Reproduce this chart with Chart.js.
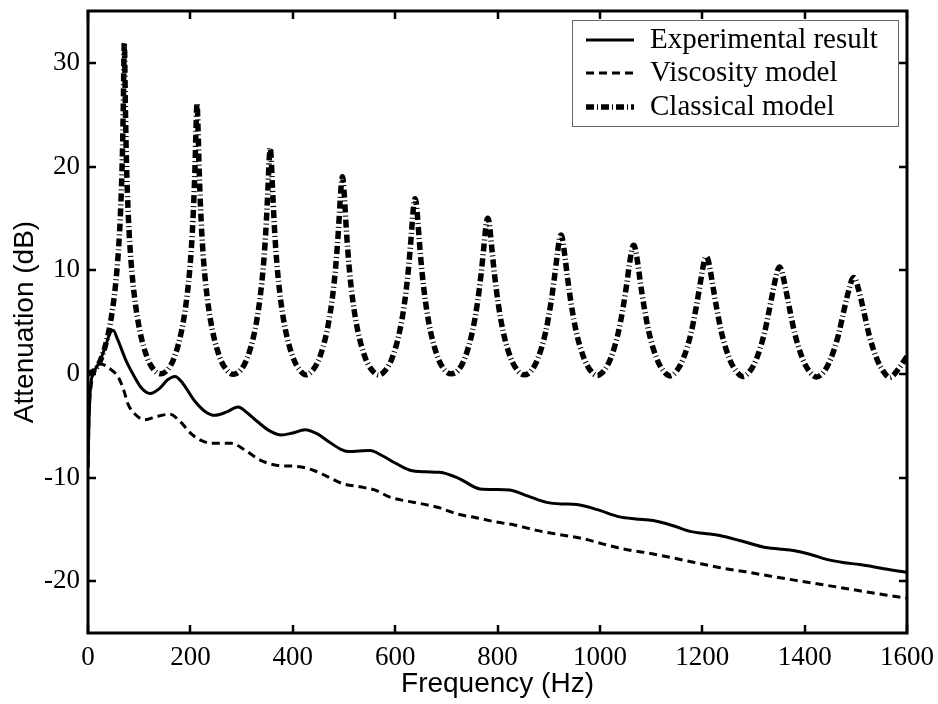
<!DOCTYPE html>
<html>
<head>
<meta charset="utf-8">
<script src="https://cdn.jsdelivr.net/npm/chart.js@4.4.0/dist/chart.umd.min.js"></script>
<style>
  html, body { margin: 0; padding: 0; background: #fff; }
  #wrap { width: 938px; height: 704px; position: relative; }
</style>
</head>
<body>
<div id="wrap"><canvas id="myChart"></canvas></div>
<script>
// tick labels
var xTicks = [0, 200, 400, 600, 800, 1000, 1200, 1400, 1600]
var yTicks = [-20, -10, 0, 10, 20, 30]

var seriesNames = ['Experimental result', 'Viscosity model', 'Classical model']

var expHz = [0, 2, 5, 12, 23, 35, 42, 49, 58, 75, 91, 105, 121, 140, 155, 170, 185, 208, 228, 248,
  270, 293, 312, 332, 355, 378, 400, 424, 448, 472, 495, 511, 530, 551, 575, 600, 629, 660, 687, 725,
  766, 795, 824, 860, 896, 925, 955, 995, 1039, 1070, 1104, 1140, 1176, 1205, 1234, 1275, 1319, 1350,
  1378, 1410, 1443, 1475, 1508, 1550, 1586, 1600]
var expDb = [-9.0, -4.5, -1.2, 0.2, 1.2, 2.8, 3.8, 4.2, 3.3, 1.2, -0.3, -1.4, -1.9, -1.4, -0.6, -0.25, -0.9, -2.6, -3.6, -4.0,
  -3.7, -3.2, -3.8, -4.65, -5.5, -5.9, -5.7, -5.4, -5.8, -6.6, -7.3, -7.5, -7.45, -7.4, -7.9, -8.6, -9.3, -9.45, -9.5, -10.1,
  -11.1, -11.15, -11.2, -11.8, -12.4, -12.55, -12.6, -13.1, -13.8, -14.0, -14.15, -14.6, -15.2, -15.4, -15.6, -16.1, -16.7, -16.9,
  -17.05, -17.4, -17.9, -18.2, -18.4, -18.75, -19.05, -19.15]

// Viscosity model
var viscHz = [0, 2, 6, 12, 23, 33, 45, 59, 70, 78, 92, 111, 135, 160, 180, 202, 220, 241, 260, 280,
  305, 332, 350, 371, 410, 440, 463, 498, 531, 560, 590, 620, 648, 685, 720, 760, 798, 835, 876, 920,
  967, 1005, 1046, 1090, 1137, 1185, 1235, 1285, 1332, 1380, 1430, 1480, 1528, 1560, 1593, 1600]
var viscDb = [-9.0, -4.0, -1.2, 0.2, 0.95, 0.82, 0.4, -0.3, -1.6, -2.9, -3.9, -4.43, -4.1, -3.9, -4.6, -5.8, -6.4, -6.7, -6.7, -6.7,
  -7.3, -8.2, -8.6, -8.84, -8.94, -9.3, -9.8, -10.6, -10.9, -11.2, -11.9, -12.25, -12.5, -12.9, -13.5, -13.9, -14.3, -14.6, -15.1, -15.5,
  -15.9, -16.4, -16.9, -17.25, -17.7, -18.2, -18.7, -19.1, -19.5, -19.9, -20.3, -20.7, -21.1, -21.35, -21.6, -21.65]

// Classical model, one row per resonance
var classHz = [
  0, 13, 26, 41, 51, 58, 63, 67, 69, 71, 73, 75, 79, 84, 91, 101, 116, 129, 142,
  155, 168, 183, 193, 200, 205, 209, 211, 213, 215, 217, 221, 226, 233, 243, 258, 271, 284,
  298, 311, 326, 336, 343, 348, 352, 354, 356, 358, 360, 364, 369, 376, 386, 401, 414, 426,
  439, 452, 467, 477, 484, 489, 493, 495, 497, 499, 501, 505, 510, 517, 527, 542, 555, 568,
  581, 594, 609, 619, 626, 631, 635, 637, 639, 641, 643, 647, 652, 659, 669, 684, 697, 710,
  723, 736, 751, 761, 768, 773, 777, 779, 781, 783, 785, 789, 794, 801, 811, 826, 839, 852,
  866, 879, 894, 904, 911, 916, 920, 922, 924, 926, 928, 932, 937, 944, 954, 969, 982, 995,
  1008, 1021, 1036, 1046, 1053, 1058, 1062, 1064, 1066, 1068, 1070, 1074, 1079, 1086, 1096, 1111, 1124, 1137,
  1150, 1163, 1178, 1188, 1195, 1200, 1204, 1206, 1208, 1210, 1212, 1216, 1221, 1228, 1238, 1253, 1266, 1279,
  1293, 1306, 1321, 1331, 1338, 1343, 1347, 1349, 1351, 1353, 1355, 1359, 1364, 1371, 1381, 1396, 1409, 1423,
  1438, 1451, 1466, 1476, 1483, 1488, 1492, 1494, 1496, 1498, 1500, 1504, 1509, 1516, 1526, 1541, 1554, 1566,
  1585, 1600]
var classDb = [
  0, 0.37, 1.51, 4.21, 7.36, 10.9, 15.0, 20.7, 25.9, 31.9, 25.9, 20.7, 15.0, 10.9, 7.36, 4.21, 1.51, 0.37, 0.0,
  0.37, 1.51, 4.21, 7.33, 10.8, 14.8, 19.9, 23.6, 26.1, 23.6, 19.9, 14.8, 10.8, 7.33, 4.21, 1.51, 0.37, -0.05,
  0.35, 1.51, 4.18, 7.27, 10.65, 14.3, 18.45, 20.7, 21.8, 20.7, 18.45, 14.3, 10.65, 7.27, 4.18, 1.51, 0.35, -0.1,
  0.35, 1.51, 4.16, 7.18, 10.4, 13.7, 17.0, 18.4, 19.0, 18.4, 17.0, 13.7, 10.4, 7.18, 4.16, 1.51, 0.35, -0.1,
  0.35, 1.50, 4.13, 7.06, 10.1, 13.0, 15.6, 16.55, 16.9, 16.55, 15.6, 13.0, 10.1, 7.06, 4.13, 1.50, 0.35, 0.0,
  0.33, 1.50, 4.08, 6.91, 9.65, 12.07, 14.07, 14.77, 15.0, 14.77, 14.07, 12.07, 9.65, 6.91, 4.08, 1.50, 0.33, -0.1,
  0.3, 1.49, 4.02, 6.73, 9.2, 11.2, 12.7, 13.22, 13.4, 13.22, 12.7, 11.2, 9.2, 6.73, 4.02, 1.49, 0.3, -0.15,
  0.3, 1.48, 3.97, 6.58, 8.85, 10.66, 11.86, 12.26, 12.4, 12.26, 11.86, 10.66, 8.85, 6.58, 3.97, 1.48, 0.3, -0.2,
  0.28, 1.47, 3.91, 6.38, 8.4, 9.89, 10.89, 11.19, 11.3, 11.19, 10.89, 9.89, 8.4, 6.38, 3.91, 1.47, 0.28, -0.25,
  0.25, 1.46, 3.84, 6.18, 7.95, 9.15, 9.98, 10.2, 10.3, 10.2, 9.98, 9.15, 7.95, 6.18, 3.84, 1.46, 0.25, -0.3,
  0.22, 1.45, 3.75, 5.94, 7.45, 8.37, 9.05, 9.23, 9.3, 9.23, 9.05, 8.37, 7.45, 5.94, 3.75, 1.45, 0.22, -0.35,
  0.6, 1.7]

function pts(xs, ys){
    var out = []
    for(var i=0;i<=xs.length-1;i++){
        out.push({x: xs[i], y: ys[i]})
    }
    return out
}

var serif = "'Liberation Serif', 'Times New Roman', serif"
var sans = "'Liberation Sans', Arial, sans-serif"

//ramka, ticki do srodka i legenda
const frame = {
    id: 'frame',
    afterDraw(chart){
        const ctx = chart.ctx
        const a = chart.chartArea
        const x = chart.scales.x
        const y = chart.scales.y
        ctx.save()
        ctx.strokeStyle = '#000'
        ctx.lineWidth = 2.5
        ctx.beginPath()
        x.ticks.forEach(t => {
            const px = Math.round(x.getPixelForValue(t.value))
            ctx.moveTo(px, a.bottom); ctx.lineTo(px, a.bottom - 8)
            ctx.moveTo(px, a.top); ctx.lineTo(px, a.top + 8)
        })
        y.ticks.forEach(t => {
            const py = Math.round(y.getPixelForValue(t.value))
            ctx.moveTo(a.left, py); ctx.lineTo(a.left + 8, py)
            ctx.moveTo(a.right, py); ctx.lineTo(a.right - 8, py)
        })
        ctx.stroke()
        ctx.lineWidth = 3
        ctx.strokeRect(a.left, a.top, a.right - a.left, a.bottom - a.top)

        // legenda
        const lx = 572, ly = 20, lw = 326, lh = 106
        ctx.fillStyle = '#fff'
        ctx.fillRect(lx, ly, lw, lh)
        ctx.lineWidth = 1
        ctx.strokeStyle = '#666'
        ctx.strokeRect(lx + 0.5, ly + 0.5, lw, lh)
        const rows = [40, 73, 107]
        chart.data.datasets.forEach((ds, i) => {
            ctx.save()
            ctx.strokeStyle = '#000'
            ctx.lineWidth = ds.borderWidth
            ctx.lineCap = 'butt'
            ctx.setLineDash(ds.borderDash || [])
            ctx.beginPath()
            ctx.moveTo(586, rows[i]); ctx.lineTo(634, rows[i])
            ctx.stroke()
            ctx.restore()
            ctx.fillStyle = '#000'
            ctx.font = '29px ' + serif
            ctx.textBaseline = 'middle'
            ctx.textAlign = 'left'
            ctx.fillText(ds.label, 650, rows[i])
        })
        ctx.restore()
    }
}

var char = new Chart(document.getElementById('myChart'), {
    type: 'line',
    data: {
        datasets: [
            { label: seriesNames[0], data: pts(expHz, expDb), borderColor: '#000', borderWidth: 3,
              pointRadius: 0, cubicInterpolationMode: 'monotone' },
            { label: seriesNames[1], data: pts(viscHz, viscDb), borderColor: '#000', borderWidth: 3,
              borderDash: [8, 5], pointRadius: 0, cubicInterpolationMode: 'monotone' },
            { label: seriesNames[2], data: pts(classHz, classDb), borderColor: '#000', borderWidth: 5.5,
              borderDash: [8, 3, 1, 3], borderCapStyle: 'butt', pointRadius: 0, cubicInterpolationMode: 'monotone' }
        ]
    },
    options: {
        responsive: true,
        maintainAspectRatio: false,
        animation: false,
        layout: { padding: { left: 0, top: 11, right: 31, bottom: 0 } },
        plugins: { legend: { display: false }, tooltip: { enabled: false } },
        scales: {
            x: {
                type: 'linear', min: 0, max: 1600,
                afterBuildTicks: s => { s.ticks = xTicks.map(v => ({ value: v })) },
                afterFit: s => { s.height = 71; s.paddingLeft = 0; s.paddingRight = 0 },
                grid: { display: false, drawTicks: false },
                border: { display: false },
                ticks: { color: '#000', padding: 9, maxRotation: 0, callback: v => String(v),
                         font: { family: serif, size: 27 } },
                title: { display: true, text: 'Frequency (Hz)', color: '#000', padding: { top: 0, bottom: 3 },
                         font: { family: sans, size: 28 } }
            },
            y: {
                type: 'linear', min: -25, max: 35,
                afterBuildTicks: s => { s.ticks = yTicks.map(v => ({ value: v })) },
                afterFit: s => { s.width = 88; s.paddingTop = 0; s.paddingBottom = 0 },
                grid: { display: false, drawTicks: false },
                border: { display: false },
                ticks: { color: '#000', padding: 8, callback: v => String(v),
                         font: { family: serif, size: 27 } },
                title: { display: true, text: 'Attenuation (dB)', color: '#000', padding: { top: 8, bottom: 0 },
                         font: { family: sans, size: 28 } }
            }
        }
    },
    plugins: [frame]
})
</script>
</body>
</html>
